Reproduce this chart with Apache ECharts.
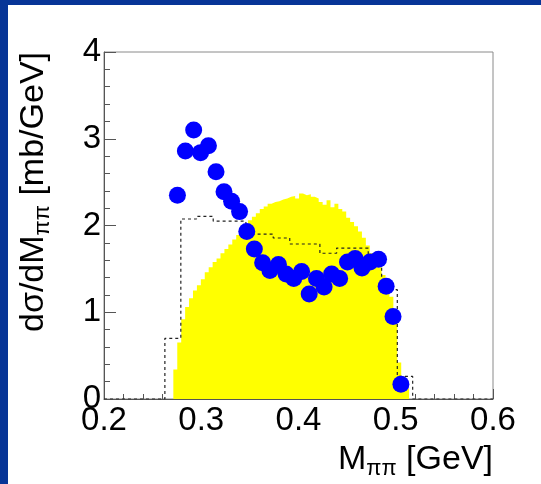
<!DOCTYPE html>
<html>
<head>
<meta charset="utf-8">
<script src="https://cdn.jsdelivr.net/npm/echarts@6/dist/echarts.min.js"></script>
<style>
  html, body { margin: 0; padding: 0; background: #ffffff; }
  #chart { width: 541px; height: 484px; }
</style>
</head>
<body>
<div id="chart"></div>
<script>
// Measured dσ/dM(ππ) points [mb/GeV] versus M(ππ) [GeV]
const massPoints = [0.2755, 0.2837, 0.2922, 0.2993, 0.3074, 0.3152, 0.3234, 0.3312, 0.3394, 0.3468,
                    0.3546, 0.3631, 0.3706, 0.3794, 0.3872, 0.3951, 0.4032, 0.4110, 0.4185, 0.4263,
                    0.4341, 0.4423, 0.4504, 0.4582, 0.4653, 0.4735, 0.4823, 0.4901, 0.4972, 0.5053];
const xsecPoints = [2.35, 2.86, 3.10, 2.84, 2.92, 2.62, 2.39, 2.28, 2.16, 1.93,
                    1.73, 1.57, 1.48, 1.55, 1.44, 1.39, 1.47, 1.21, 1.39, 1.29,
                    1.44, 1.39, 1.58, 1.62, 1.51, 1.58, 1.61, 1.30, 0.95, 0.17];

// Phase-space distribution (filled histogram): first bin edge, bin width, contents
const psFirstEdge = 0.2713;
const psBinWidth = 0.00404;
const psValues = [0.34, 0.65, 0.92, 1.06, 1.16, 1.25, 1.31, 1.38, 1.46, 1.52,
                  1.58, 1.62, 1.68, 1.73, 1.78, 1.84, 1.89, 1.95, 2.01, 2.06,
                  2.10, 2.14, 2.19, 2.22, 2.25, 2.27, 2.28, 2.30, 2.31, 2.33,
                  2.34, 2.31, 2.37, 2.35, 2.36, 2.33, 2.31, 2.27, 2.24, 2.29,
                  2.21, 2.25, 2.19, 2.16, 2.09, 2.04, 1.99, 1.93, 1.86, 1.77,
                  1.68, 1.60, 1.52, 1.43, 1.32, 1.18, 1.02, 0.42, 0.26, 0.12];

// Model curve (dashed histogram): bin edges and contents
const modelEdges = [0.2, 0.2626, 0.2790, 0.2951, 0.3123, 0.3459, 0.3740, 0.3910,
                    0.4220, 0.4392, 0.4717, 0.4855, 0.5016, 0.5174, 0.6];
const modelValues = [0, 0.70, 2.075, 2.105, 2.05, 1.90, 1.856, 1.787,
                     1.68, 1.74, 1.58, 1.26, 0.26, 0];

const FONT = '"Liberation Sans", Arial, Helvetica, sans-serif';

// Outline of the filled histogram as one closed step path
const psOutline = [[psFirstEdge, 0]];
psValues.forEach((v, i) => {
  psOutline.push([psFirstEdge + i * psBinWidth, v]);
  psOutline.push([psFirstEdge + (i + 1) * psBinWidth, v]);
});
psOutline.push([psFirstEdge + psValues.length * psBinWidth, 0]);

const modelLine = [];
modelValues.forEach((v, i) => {
  modelLine.push([modelEdges[i], v]);
  modelLine.push([modelEdges[i + 1], v]);
});

const pointData = massPoints.map((m, i) => [m, xsecPoints[i]]);

const chart = echarts.init(document.getElementById('chart'), null, { renderer: 'canvas' });

const subStyle = { fontSize: 22, fontFamily: FONT, lineHeight: 26, verticalAlign: 'bottom', fill: '#000000' };

chart.setOption({
  animation: false,
  backgroundColor: '#ffffff',
  grid: {
    left: 104, top: 52, width: 389, height: 347,
    show: true, borderColor: '#8a8a8a', borderWidth: 1, backgroundColor: 'transparent'
  },
  xAxis: {
    type: 'value', min: 0.2, max: 0.6, interval: 0.1,
    axisLine: { show: true, onZero: false, lineStyle: { color: '#555555', width: 1 } },
    axisTick: { show: true, inside: true, length: 10, lineStyle: { color: '#555555' } },
    minorTick: { show: true, splitNumber: 5, length: 5, lineStyle: { color: '#555555' } },
    splitLine: { show: false },
    axisLabel: {
      show: true, margin: 5, color: '#000000', fontSize: 33, fontFamily: FONT,
      showMinLabel: true, showMaxLabel: true,
      formatter: v => v.toFixed(1)
    }
  },
  yAxis: {
    type: 'value', min: 0, max: 4, interval: 1,
    axisLine: { show: true, onZero: false, lineStyle: { color: '#555555', width: 1 } },
    axisTick: { show: true, inside: true, length: 12, lineStyle: { color: '#555555' } },
    minorTick: { show: true, splitNumber: 5, length: 6, lineStyle: { color: '#555555' } },
    splitLine: { show: false },
    axisLabel: {
      show: true, margin: 3, color: '#000000', fontSize: 33, fontFamily: FONT,
      showMinLabel: true, showMaxLabel: true
    }
  },
  series: [
    {
      name: 'phase space',
      type: 'line',
      z: 1,
      data: psOutline,
      showSymbol: false,
      symbol: 'none',
      lineStyle: { width: 0, color: '#ffff00' },
      areaStyle: { color: '#ffff00', opacity: 1, origin: 'start' }
    },
    {
      name: 'model',
      type: 'line',
      z: 2,
      data: modelLine,
      showSymbol: false,
      symbol: 'none',
      lineStyle: { color: '#222222', width: 1.2, type: [3, 3] }
    },
    {
      name: 'data',
      type: 'scatter',
      z: 3,
      data: pointData,
      symbol: 'circle',
      symbolSize: 17,
      itemStyle: { color: '#0000ff', opacity: 1 }
    }
  ],
  graphic: [
    { type: 'rect', left: 0, top: 0, shape: { width: 8, height: 484 }, style: { fill: '#073597' }, z: 100 },
    { type: 'rect', left: 0, top: 0, shape: { width: 541, height: 5 }, style: { fill: '#073597' }, z: 100 },
    {
      type: 'text', x: 493, y: 460, z: 100,
      style: {
        text: 'M{sub|ππ} [GeV]',
        align: 'right', verticalAlign: 'middle',
        fill: '#000000', font: '34px ' + FONT,
        rich: { sub: subStyle },
        lineHeight: 40
      }
    },
    {
      type: 'text', x: 34, y: 52, rotation: Math.PI / 2, z: 100,
      style: {
        text: 'dσ/dM{sub|ππ} [mb/GeV]',
        align: 'right', verticalAlign: 'middle',
        fill: '#000000', font: '34px ' + FONT,
        rich: { sub: subStyle },
        lineHeight: 40
      }
    }
  ]
});
</script>
</body>
</html>
